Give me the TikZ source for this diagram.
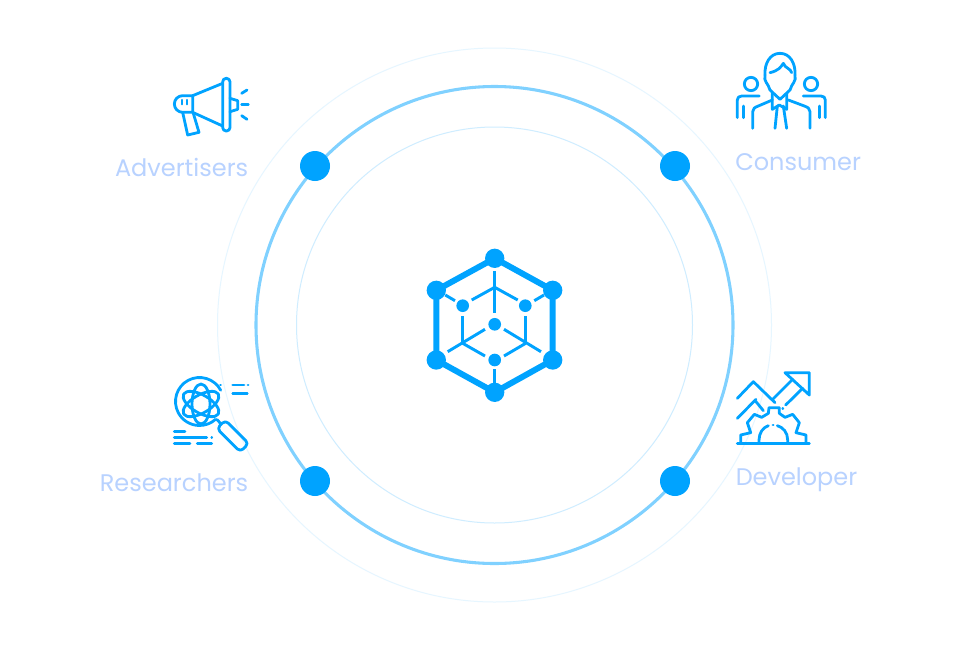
\documentclass[tikz,border=0pt]{standalone}
\usepackage{fontspec}
\setmainfont{Poppins}
\definecolor{iconblue}{HTML}{00A3FF}
\definecolor{labelblue}{HTML}{B8D2FF}
\definecolor{midring}{HTML}{80D1FF}
\definecolor{innerring}{HTML}{CFEDFF}
\definecolor{outerring}{HTML}{E6F6FF}
\begin{document}
\begin{tikzpicture}[x=0.75pt,y=-0.75pt,
  ic/.style={draw=iconblue,line width=2.1pt,line cap=round,line join=round},
  lbl/.style={text=labelblue,font=\fontsize{18pt}{20pt}\selectfont,inner sep=0pt},
  bigdot/.style={circle,fill=iconblue,minimum size=22.5pt,inner sep=0pt},
  hexdot/.style={circle,fill=iconblue,minimum size=14.5pt,inner sep=0pt},
  smalldot/.style={circle,fill=iconblue,minimum size=9.5pt,inner sep=0pt},
  hexedge/.style={draw=iconblue,line width=4.5pt},
  spoke/.style={draw=iconblue,line width=2.2pt}]
\useasboundingbox (0,0) rectangle (960,650);
\fill[white] (0,0) rectangle (960,650);
% rings
\coordinate (c) at (494.5,325);
\draw[outerring,line width=0.75pt] (c) circle (277);
\draw[midring,line width=2.3pt] (c) circle (238.5);
\draw[innerring,line width=0.75pt] (c) circle (198);
\node[bigdot] (d1) at (315,166) {};
\node[bigdot] (d2) at (675,166) {};
\node[bigdot] (d3) at (315,481) {};
\node[bigdot] (d4) at (675,481) {};
% central hexagon
\node[hexdot] (h1) at (494.7,258.3) {};
\node[hexdot] (h2) at (552.7,290.3) {};
\node[hexdot] (h3) at (552.7,360) {};
\node[hexdot] (h4) at (494.7,392.3) {};
\node[hexdot] (h5) at (436.3,360) {};
\node[hexdot] (h6) at (436.3,290.3) {};
\draw[hexedge] (h1.center)--(h2.center)--(h3.center)--(h4.center)--(h5.center)--(h6.center)--cycle;
\node[smalldot] (s1) at (462.7,305.7) {};
\node[smalldot] (s2) at (525.3,305.7) {};
\node[smalldot] (s3) at (494.7,324.3) {};
\node[smalldot] (s4) at (494.7,360) {};
\draw[spoke] (494.7,271.3)--(494.7,313.3);
\draw[spoke] (471.7,300)--(494.7,287.3)--(517.7,300);
\draw[spoke] (445.3,295)--(455,300.7);
\draw[spoke] (544,295)--(534.3,300.7);
\draw[spoke] (462.7,316)--(462.7,343.3);
\draw[spoke] (525.7,316)--(525.7,343.3);
\draw[spoke] (447.7,351.7)--(485,329.3);
\draw[spoke] (541,351.7)--(504,329.3);
\draw[spoke] (462.7,343.3)--(485,356);
\draw[spoke] (525.7,343.3)--(504,356);
\draw[spoke] (494.7,369.3)--(494.7,383);
% megaphone
\begin{scope}[shift={(100,60)},x=0.25pt,y=-0.25pt]
\draw[ic] (278,107)--(248,107) arc[start angle=-90,end angle=-270,radius=25]--(278,157)--cycle;
\draw[ic] (278,107)--(368,70);
\draw[ic] (278,157)--(368,198);
\draw[ic,rounded corners=2.6pt] (368,55) rectangle (390,213);
\draw[ic] (390,115)--(413,122)--(413,148)--(390,155);
\draw[ic] (425,100)--(441,90);
\draw[ic] (425,133)--(445,133);
\draw[ic] (425,167)--(441,178);
\draw[ic] (248,157)--(263,225)--(297,217)--(280,160);
\draw[ic,line width=1.6pt] (247,120)--(247,133);
\draw[ic,line width=1.6pt] (262,120)--(262,133);
\end{scope}
% consumer
\begin{scope}[shift={(720,40)},x=0.25pt,y=-0.25pt]
\draw[ic] (135,105) .. controls (133,70) and (150,40) .. (180,40) .. controls (210,40) and (227,70) .. (225,105);
\draw[ic] (135,105) .. controls (130,125) and (145,130) .. (150,150) -- (180,178) -- (210,150) .. controls (215,130) and (230,125) .. (225,105);
\draw[ic] (150,98) .. controls (175,92) and (182,82) .. (190,70) .. controls (195,85) and (212,85) .. (215,98);
\draw[ic] (157,160)--(157,208)--(178,195)--(200,208)--(200,160);
\draw[ic] (172,198)--(165,265);
\draw[ic] (190,198)--(200,265);
\draw[ic] (98,265)--(98,215) .. controls (98,205) and (105,202) .. (115,198)--(157,180);
\draw[ic] (270,265)--(270,215) .. controls (270,205) and (263,202) .. (253,198)--(205,180);
\draw[ic] (93,132) circle (20);
\draw[ic] (273,132) circle (20);
\draw[ic] (118,168)--(65,168) .. controls (57,168) and (52,173) .. (52,180)--(52,233);
\draw[ic] (70,198)--(70,233);
\draw[ic] (250,168)--(303,168) .. controls (311,168) and (316,173) .. (316,180)--(316,233);
\draw[ic] (298,198)--(298,233);
\end{scope}
% researcher
\draw[ic] (199.5,401.5)+(-28:24) arc[start angle=-28,end angle=-312,radius=24];
\draw[ic] (220.5,385)--(220.6,385);
\begin{scope}[shift={(201,404)},rotate=30]
\draw[ic] (0,0) ellipse (20 and 9);
\end{scope}
\begin{scope}[shift={(201,404)},rotate=-30]
\draw[ic] (0,0) ellipse (20 and 9);
\end{scope}
\draw[ic] (201,404) ellipse (9 and 20);
\begin{scope}[shift={(232.8,436)},rotate=-45]
\draw[ic,rounded corners=3pt] (-16.5,-5.9) rectangle (16.5,5.9);
\end{scope}
\draw[ic] (217,419.5)--(221,424);
\draw[ic] (232.7,385)--(244,385);
\draw[ic] (248,385)--(248.1,385);
\draw[ic] (232.7,393.3)--(247.3,393.3);
\draw[ic] (174.3,431.7)--(185,431.7);
\draw[ic] (174.3,437.3)--(206.7,437.3);
\draw[ic] (211.7,437.3)--(211.8,437.3);
\draw[ic] (174.3,443.3)--(190,443.3);
\draw[ic] (197.3,443.3)--(211.7,443.3);
% developer
\begin{scope}[shift={(720,360)},x=0.25pt,y=-0.25pt]
\draw[ic] (52,250)--(268,250);
\draw[ic] (195,38)--(268,38)--(268,105)--cycle;
\draw[ic] (158,118)--(218,58);
\draw[ic] (197,135)--(248,85);
\draw[ic] (188,145)--(188.5,145);
\draw[ic] (52,115)--(100,65)--(165,128);
\draw[ic] (52,175)--(108,118);
\draw[ic] (108,125)--(130,152);
\draw[ic] (62,248)--(62,225)--(92,218)--(82,188)--(103,163)--(125,172)--(145,160)--(147,143)--(178,143)--(178,160)--(195,172)--(218,163)--(238,188)--(228,218)--(258,225)--(258,248);
\draw[ic] (117,248)--(117,240) .. controls (117,218) and (130,202) .. (145,197);
\draw[ic] (172,197) .. controls (190,202) and (203,218) .. (203,240)--(203,248);
\draw[ic] (159,195)--(159.5,195);
\end{scope}
% labels
\node[lbl,anchor=base east] (la) at (248.5,176.7) {Advertisers};
\node[lbl,anchor=base west] (lc) at (735,170) {Consumer};
\node[lbl,anchor=base east] (lr) at (248.5,491) {Researchers};
\node[lbl,anchor=base west] (ld) at (735.5,485) {Developer};
\end{tikzpicture}
\end{document}
